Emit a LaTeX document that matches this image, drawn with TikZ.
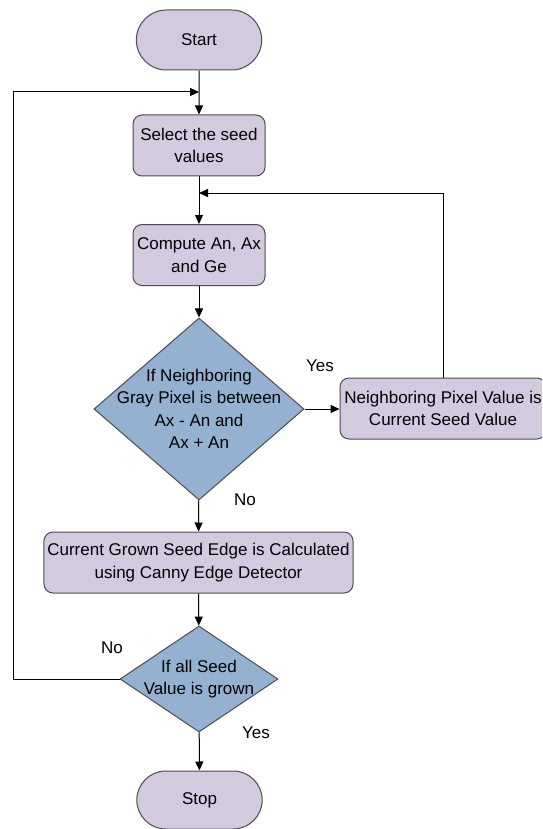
\documentclass[tikz,border=0pt]{standalone}
\usepackage{fontspec}
\setmainfont{Liberation Sans}
\usetikzlibrary{arrows.meta,shapes.geometric,shapes.misc,positioning}
\definecolor{boxlilac}{RGB}{211,202,224}
\definecolor{decblue}{RGB}{149,177,209}
\tikzset{
    >={Triangle[length=9pt,width=8pt]},
    terminal/.style={draw=black!70, fill=boxlilac, rounded rectangle,
        minimum width=132pt, minimum height=60pt, line width=1pt},
    process/.style={draw=black!70, fill=boxlilac, rounded corners=9pt,
        minimum height=61pt, align=center, line width=1pt},
    decision/.style={draw=black!70, fill=decblue, diamond, inner sep=0pt,
        line width=1pt},
    flow/.style={draw=black, line width=1pt, ->},
    answer/.style={inner sep=0pt},
}
\begin{document}
\begin{tikzpicture}[x=1pt, y=-1pt, font=\fontsize{17}{22.5}\selectfont]
\useasboundingbox (0,0) rectangle (542,829);
\clip (0,0) rectangle (542,829);
% boxes
\node[terminal] (start) at (199,40) {Start};
\node[process, minimum width=132pt] (select) at (199,145.5) {Select the seed\\values};
\node[process, minimum width=132pt] (compute) at (199,255) {Compute An, Ax\\and Ge};
\node[decision, minimum width=210pt, minimum height=182pt] (dec1) at (199,409) {};
\node[align=center] (dec1text) at (dec1) {If Neighboring\\Gray Pixel is between\\Ax - An and\\Ax + An};
\node[process, minimum width=206pt, inner xsep=1pt] (neigh) at (443,408.5) {Neighboring Pixel Value is\\Current Seed Value};
\node[process, minimum width=307pt] (current) at (198.5,562.5) {Current Grown Seed Edge is Calculated\\using Canny Edge Detector};
\node[decision, minimum width=158pt, minimum height=106pt] (dec2) at (199,679) {};
\node[align=center] (dec2text) at (dec2) {If all Seed\\Value is grown};
\node[terminal, minimum height=58pt] (stop) at (199.5,800) {Stop};
% loop points
\coordinate (loopleft) at (13,92);
\coordinate (loopin) at (199,92);
\coordinate (backin) at (199,193);
% connectors
\draw[flow] (start) -- (select);
\draw[flow] (select) -- (compute);
\draw[flow] (compute) -- (dec1);
\draw[flow] (dec1.east) -- (dec1.east -| neigh.west);
\draw[flow] (neigh.north) |- (backin);
\draw[flow] (dec1) -- (current);
\draw[flow] (current) -- (dec2);
\draw[flow] (dec2) -- (stop);
\draw[flow] (dec2.west) -| (loopleft) -- (loopin);
% answers
\node[answer] (yes1) at (320,366) {Yes};
\node[answer] (no1) at (245,500) {No};
\node[answer] (no2) at (112,648) {No};
\node[answer] (yes2) at (256,733) {Yes};
\end{tikzpicture}
\end{document}
